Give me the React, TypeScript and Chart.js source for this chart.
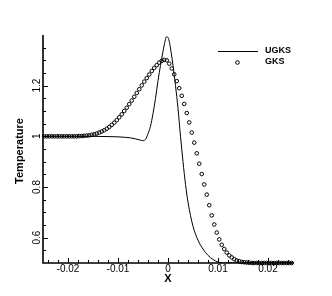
import { useEffect, useRef } from "react";
import { Chart, registerables } from "chart.js";

Chart.register(...registerables);

// UGKS solution (solid line)
const ugksX = [
  -0.025, -0.015, -0.012, -0.01, -0.0085, -0.0075, -0.0065, -0.0055, -0.005, -0.0045,
  -0.004, -0.0035, -0.003, -0.0025, -0.002, -0.0015, -0.001, -0.0006, -0.0003, 0.0,
  0.0003, 0.0006, 0.001, 0.0015, 0.002, 0.0025, 0.003, 0.0035, 0.004, 0.005,
  0.006, 0.007, 0.008, 0.009, 0.01, 0.011, 0.025,
];
const ugksT = [
  1.0, 1.0, 0.999, 0.998, 0.996, 0.994, 0.99, 0.985, 0.983, 0.988,
  1.01, 1.04, 1.09, 1.15, 1.22, 1.28, 1.335, 1.375, 1.393, 1.39,
  1.37, 1.335, 1.28, 1.2, 1.11, 1.0, 0.9, 0.81, 0.74, 0.645,
  0.59, 0.555, 0.53, 0.514, 0.504, 0.5, 0.5,
];

// GKS solution (circles)
const gksX = [
  -0.02475, -0.02425, -0.02375, -0.02325, -0.02275, -0.02225, -0.02175, -0.02125, -0.02075, -0.02025,
  -0.01975, -0.01925, -0.01875, -0.01825, -0.01775, -0.01725, -0.01675, -0.01625, -0.01575, -0.01525,
  -0.01475, -0.01425, -0.01375, -0.01325, -0.01275, -0.01225, -0.01175, -0.01125, -0.01075, -0.01025,
  -0.00975, -0.00925, -0.00875, -0.00825, -0.00775, -0.00725, -0.00675, -0.00625, -0.00575, -0.00525,
  -0.00475, -0.00425, -0.00375, -0.00325, -0.00275, -0.00225, -0.00175, -0.00125, -0.00075, -0.00025,
  0.00025, 0.00075, 0.00125, 0.00175, 0.00225, 0.00275, 0.00325, 0.00375, 0.00425, 0.00475,
  0.00525, 0.00575, 0.00625, 0.00675, 0.00725, 0.00775, 0.00825, 0.00875, 0.00925, 0.00975,
  0.01025, 0.01075, 0.01125, 0.01175, 0.01225, 0.01275, 0.01325, 0.01375, 0.01425, 0.01475,
  0.01525, 0.01575, 0.01625, 0.01675, 0.01725, 0.01775, 0.01825, 0.01875, 0.01925, 0.01975,
  0.02025, 0.02075, 0.02125, 0.02175, 0.02225, 0.02275, 0.02325, 0.02375, 0.02425, 0.02475,
];
const gksT = [
  1.0, 1.0, 1.0, 1.0, 1.0, 1.0, 1.0, 1.0, 1.0, 1.0,
  1.0, 1.0, 1.0, 1.0, 1.001, 1.001, 1.002, 1.003, 1.004, 1.006,
  1.008, 1.011, 1.015, 1.019, 1.024, 1.03, 1.037, 1.045, 1.054, 1.064,
  1.075, 1.087, 1.1, 1.113, 1.127, 1.141, 1.156, 1.171, 1.186, 1.201,
  1.216, 1.23, 1.244, 1.258, 1.27, 1.281, 1.291, 1.298, 1.302, 1.3,
  1.287, 1.268, 1.245, 1.218, 1.19, 1.16, 1.128, 1.092, 1.055, 1.015,
  0.975, 0.933, 0.892, 0.851, 0.81, 0.77, 0.728, 0.688, 0.652, 0.62,
  0.593, 0.572, 0.555, 0.541, 0.53, 0.522, 0.515, 0.51, 0.507, 0.504,
  0.503, 0.502, 0.501, 0.5, 0.5, 0.5, 0.5, 0.5, 0.5, 0.5,
  0.5, 0.5, 0.5, 0.5, 0.5, 0.5, 0.5, 0.5, 0.5, 0.5,
];

const seriesLabels = ["UGKS", "GKS"];
const xTitle = "X";
const yTitle = "Temperature";

const xMin = -0.025;
const xMax = 0.025;
const yMin = 0.5;
const yMax = 1.4;

const xMajorTicks = [-0.02, -0.01, 0, 0.01, 0.02];
const xTickLabels = ["-0.02", "-0.01", "0", "0.01", "0.02"];
const xMinorTicks = [
  -0.024, -0.022, -0.018, -0.016, -0.014, -0.012, -0.008, -0.006, -0.004, -0.002,
  0.002, 0.004, 0.006, 0.008, 0.012, 0.014, 0.016, 0.018, 0.022, 0.024,
];
const yMajorTicks = [0.6, 0.8, 1.0, 1.2];
const yTickLabels = ["0.6", "0.8", "1", "1.2"];
const yMinorTicks = [0.55, 0.65, 0.7, 0.75, 0.85, 0.9, 0.95, 1.05, 1.1, 1.15, 1.25, 1.3, 1.35];

const FONT = '"Liberation Sans", Arial, Helvetica, sans-serif';

const tecplotAxes = {
  id: "tecplotAxes",
  afterDatasetsDraw(chart: any) {
    const { ctx, chartArea: a, scales } = chart;
    const xs = scales.x;
    const ys = scales.y;
    ctx.save();
    ctx.strokeStyle = "#000";
    ctx.fillStyle = "#000";

    // axis lines
    ctx.lineWidth = 1.6;
    ctx.beginPath();
    ctx.moveTo(a.left, a.top);
    ctx.lineTo(a.left, a.bottom);
    ctx.lineTo(a.right, a.bottom);
    ctx.stroke();

    // ticks (inward)
    ctx.lineWidth = 1;
    ctx.beginPath();
    xMajorTicks.forEach((v) => {
      const p = Math.round(xs.getPixelForValue(v)) + 0.5;
      ctx.moveTo(p, a.bottom);
      ctx.lineTo(p, a.bottom - 5);
    });
    xMinorTicks.forEach((v) => {
      const p = Math.round(xs.getPixelForValue(v)) + 0.5;
      ctx.moveTo(p, a.bottom);
      ctx.lineTo(p, a.bottom - 3);
    });
    yMajorTicks.forEach((v) => {
      const p = Math.round(ys.getPixelForValue(v)) + 0.5;
      ctx.moveTo(a.left, p);
      ctx.lineTo(a.left + 5, p);
    });
    yMinorTicks.forEach((v) => {
      const p = Math.round(ys.getPixelForValue(v)) + 0.5;
      ctx.moveTo(a.left, p);
      ctx.lineTo(a.left + 3, p);
    });
    ctx.stroke();

    // tick labels
    ctx.font = `10px ${FONT}`;
    ctx.textAlign = "center";
    ctx.textBaseline = "middle";
    xMajorTicks.forEach((v, i) => {
      ctx.fillText(xTickLabels[i], xs.getPixelForValue(v), a.bottom + 6);
    });
    yMajorTicks.forEach((v, i) => {
      ctx.save();
      ctx.translate(a.left - 6, ys.getPixelForValue(v));
      ctx.rotate(-Math.PI / 2);
      ctx.fillText(yTickLabels[i], 0, 0);
      ctx.restore();
    });

    // axis titles
    ctx.font = `bold 11px ${FONT}`;
    ctx.fillText(xTitle, xs.getPixelForValue(0), a.bottom + 16);
    ctx.save();
    ctx.translate(a.left - 23, (a.top + a.bottom) / 2 + 2);
    ctx.rotate(-Math.PI / 2);
    ctx.fillText(yTitle, 0, 0);
    ctx.restore();

    // legend
    ctx.font = `bold 9px ${FONT}`;
    ctx.textAlign = "left";
    const lx = a.right - 75;
    const ly = a.top + 16;
    ctx.lineWidth = 1;
    ctx.beginPath();
    ctx.moveTo(lx, ly + 0.5);
    ctx.lineTo(lx + 40, ly + 0.5);
    ctx.stroke();
    ctx.fillText(seriesLabels[0], lx + 47, ly);
    ctx.beginPath();
    ctx.arc(lx + 19.5, ly + 11.5, 1.8, 0, Math.PI * 2);
    ctx.stroke();
    ctx.fillText(seriesLabels[1], lx + 47, ly + 11);

    ctx.restore();
  },
};

export default function App() {
  const ref = useRef<HTMLCanvasElement | null>(null);

  useEffect(() => {
    if (!ref.current) return;
    const chart = new Chart(ref.current, {
      type: "scatter",
      data: {
        datasets: [
          {
            label: seriesLabels[0],
            data: ugksX.map((x, i) => ({ x, y: ugksT[i] })),
            showLine: true,
            borderColor: "#000",
            borderWidth: 1,
            pointRadius: 0,
            cubicInterpolationMode: "monotone",
            fill: false,
            order: 1,
          },
          {
            label: seriesLabels[1],
            data: gksX.map((x, i) => ({ x, y: gksT[i] })),
            showLine: false,
            borderColor: "#000",
            backgroundColor: "rgba(0,0,0,0)",
            borderWidth: 1,
            pointRadius: 1.8,
            pointStyle: "circle",
            clip: false,
            order: 0,
          },
        ],
      },
      plugins: [tecplotAxes],
      options: {
        responsive: false,
        animation: false,
        layout: { padding: { left: 43, top: 35, right: 39, bottom: 33 } },
        plugins: {
          legend: { display: false },
          tooltip: { enabled: false },
        },
        scales: {
          x: { type: "linear", min: xMin, max: xMax, display: false },
          y: { type: "linear", min: yMin, max: yMax, display: false },
        },
      },
    });
    return () => chart.destroy();
  }, []);

  return (
    <div style={{ position: "absolute", left: 0, top: 0, width: 332, height: 296, background: "#fff" }}>
      <canvas ref={ref} width={332} height={296} />
    </div>
  );
}
